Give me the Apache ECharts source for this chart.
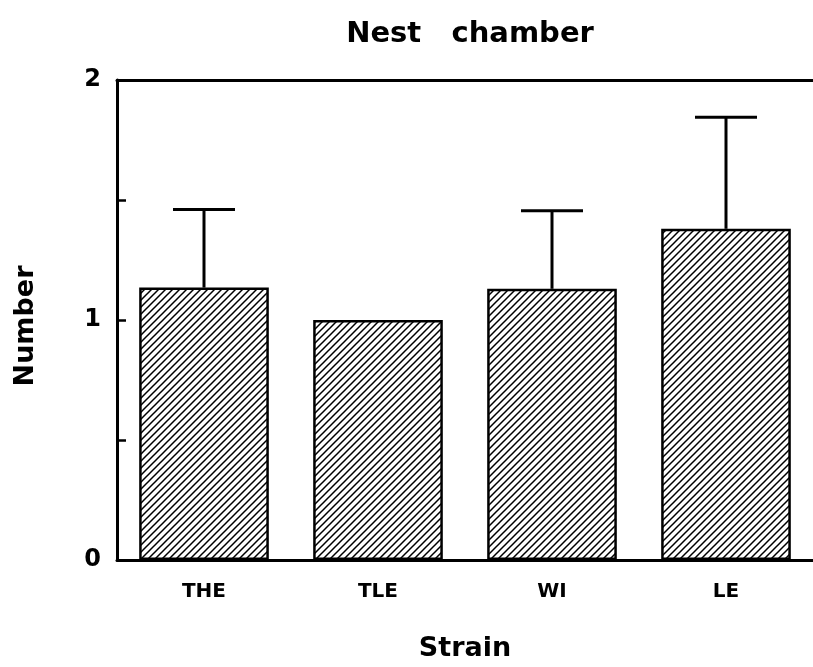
<!DOCTYPE html>
<html>
<head>
<meta charset="utf-8">
<script src="https://cdn.jsdelivr.net/npm/echarts@6/dist/echarts.min.js"></script>
<style>
  html, body { margin: 0; padding: 0; background: #fff; }
  #chart { width: 813px; height: 667px; }
</style>
</head>
<body>
<div id="chart"></div>
<script>
// values
const strains = ['THE', 'TLE', 'WI', 'LE']
const means = [1.135, 1.0, 1.13, 1.38]
const sem = [0.325, 0, 0.325, 0.465]
const yTicks = [0, 1, 2]

const font = 'DejaVu Sans'

// diagonal hatching like the printed figure
function hatch() {
  const p = 7
  const c = document.createElement('canvas')
  c.width = p
  c.height = p
  const ctx = c.getContext('2d')
  ctx.fillStyle = '#fff'
  ctx.fillRect(0, 0, p, p)
  ctx.strokeStyle = '#000'
  ctx.lineWidth = 1.5
  ctx.beginPath()
  ctx.moveTo(-1, p + 1); ctx.lineTo(p + 1, -1)
  ctx.moveTo(-2, 2); ctx.lineTo(2, -2)
  ctx.moveTo(p - 2, p + 2); ctx.lineTo(p + 2, p - 2)
  ctx.stroke()
  return c
}

const errData = strains.map((s, i) => [i, means[i], means[i] + sem[i]])

const chart = echarts.init(document.getElementById('chart'))
chart.setOption({
  animation: false,
  backgroundColor: '#fff',
  title: {
    text: 'Nest   chamber',
    left: 470,
    textAlign: 'center',
    top: 20,
    padding: 0,
    textStyle: { fontFamily: font, fontWeight: 'bold', fontSize: 29, color: '#000' }
  },
  grid: { left: 117, right: -4, top: 80, bottom: 106 },
  xAxis: [{
    type: 'category',
    data: strains,
    name: 'Strain',
    nameLocation: 'middle',
    nameGap: 75,
    nameTextStyle: { fontFamily: font, fontWeight: 'bold', fontSize: 27, color: '#000' },
    axisLine: { lineStyle: { color: '#000', width: 3 } },
    axisTick: { show: false },
    axisLabel: { fontFamily: font, fontWeight: 'bold', fontSize: 20, color: '#000', margin: 22 }
  }, {
    type: 'category',
    data: strains,
    position: 'top',
    axisLine: { lineStyle: { color: '#000', width: 3 } },
    axisTick: { show: false },
    axisLabel: { show: false }
  }],
  yAxis: {
    type: 'value',
    min: 0,
    max: 2,
    interval: 0.5,
    name: 'Number',
    nameLocation: 'middle',
    nameGap: 78,
    nameRotate: 90,
    nameTextStyle: { fontFamily: font, fontWeight: 'bold', fontSize: 27, color: '#000', padding: [0, 0, 0, -12] },
    axisLine: { show: true, lineStyle: { color: '#000', width: 3 } },
    axisTick: { show: true, inside: true, length: 9, lineStyle: { color: '#000', width: 2.5 } },
    splitLine: { show: false },
    axisLabel: {
      fontFamily: font, fontWeight: 'bold', fontSize: 24, color: '#000', margin: 16,
      formatter: v => (yTicks.includes(v) ? String(v) : '')
    }
  },
  series: [{
    type: 'bar',
    data: means,
    barWidth: '74.5%',
    itemStyle: {
      color: { image: hatch(), repeat: 'repeat' },
      borderColor: '#000',
      borderWidth: 2.5
    }
  }, {
    type: 'custom',
    data: errData,
    z: 1,
    renderItem: (params, api) => {
      if (api.value(2) <= api.value(1)) return null
      const lo = api.coord([api.value(0), api.value(1)])
      const hi = api.coord([api.value(0), api.value(2)])
      const half = 31
      const st = { stroke: '#000', lineWidth: 3 }
      return {
        type: 'group',
        children: [
          { type: 'line', shape: { x1: lo[0], y1: lo[1], x2: hi[0], y2: hi[1] }, style: st },
          { type: 'line', shape: { x1: hi[0] - half, y1: hi[1], x2: hi[0] + half, y2: hi[1] }, style: st }
        ]
      }
    }
  }]
})
</script>
</body>
</html>
